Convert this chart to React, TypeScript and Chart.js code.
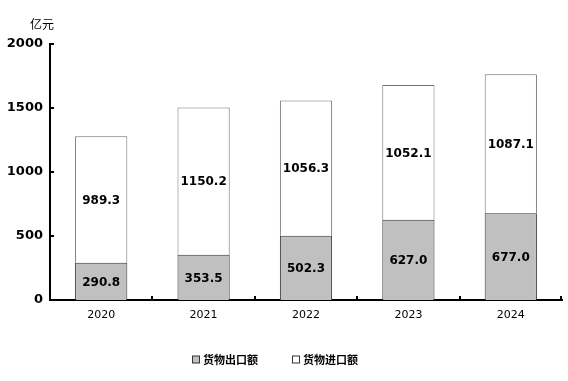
import React, { useEffect, useRef } from "react";
import { Chart, registerables } from "chart.js";

Chart.register(...registerables);

const categories = ["2020", "2021", "2022", "2023", "2024"];
const exportValues = [290.8, 353.5, 502.3, 627.0, 677.0];
const importValues = [989.3, 1150.2, 1056.3, 1052.1, 1087.1];
const seriesNames = ["货物出口额", "货物进口额"];
const unitLabel = "亿元";
const yMax = 2000;
const yStep = 500;

const NUM_FONT = "'DejaVu Sans', Verdana, sans-serif";
const CJK_FONT = "'Noto Sans CJK SC', 'Noto Sans', sans-serif";
const seriesFill = ["#C0C0C0", "#FFFFFF"];
const seriesBorder = ["#333333", "#707070"];

const extrasPlugin = {
  id: "extras",
  afterDatasetsDraw(chart: any) {
    const ctx = chart.ctx as CanvasRenderingContext2D;
    const { left, right, top, bottom } = chart.chartArea;
    ctx.save();
    // data labels
    ctx.font = `bold 12px ${NUM_FONT}`;
    ctx.fillStyle = "#000";
    ctx.textAlign = "center";
    ctx.textBaseline = "middle";
    chart.data.datasets.forEach((ds: any, di: number) => {
      const meta = chart.getDatasetMeta(di);
      meta.data.forEach((bar: any, i: number) => {
        const p = bar.getProps(["x", "y", "base"], true);
        ctx.fillText(Number(ds.data[i]).toFixed(1), p.x, (p.y + p.base) / 2 + 1);
      });
    });
    // axis tick marks (inside)
    ctx.strokeStyle = "#000";
    ctx.lineWidth = 2;
    const ys = chart.scales.y;
    ys.ticks.forEach((t: any) => {
      const py = Math.round(ys.getPixelForValue(t.value));
      ctx.beginPath();
      ctx.moveTo(left, py);
      ctx.lineTo(left + 4, py);
      ctx.stroke();
    });
    const xs = chart.scales.x;
    const n = chart.data.labels.length;
    for (let i = 1; i <= n; i++) {
      const px =
        i < n
          ? Math.round((xs.getPixelForValue(i - 1) + xs.getPixelForValue(i)) / 2)
          : right - 1;
      ctx.beginPath();
      ctx.moveTo(px, bottom);
      ctx.lineTo(px, bottom - 4);
      ctx.stroke();
    }
    // unit label
    ctx.font = `12px ${CJK_FONT}`;
    ctx.textAlign = "center";
    ctx.fillText(unitLabel, left - 8, top - 20);
    // legend
    ctx.font = `bold 11px ${CJK_FONT}`;
    ctx.textAlign = "left";
    const box = 7;
    const gap = 4;
    const itemGap = 34;
    const widths = chart.data.datasets.map(
      (ds: any) => box + gap + ctx.measureText(ds.label).width
    );
    const total = widths.reduce((a: number, b: number) => a + b, 0) + itemGap * (widths.length - 1);
    let x = 275 - total / 2;
    const ly = 359;
    chart.data.datasets.forEach((ds: any, di: number) => {
      ctx.fillStyle = ds.backgroundColor;
      ctx.fillRect(x + 0.5, ly - box / 2 + 0.5, box, box);
      ctx.strokeStyle = "#333";
      ctx.lineWidth = 1;
      ctx.strokeRect(x + 0.5, ly - box / 2 + 0.5, box, box);
      ctx.fillStyle = "#000";
      ctx.fillText(ds.label, x + box + gap, ly + 1);
      x += widths[di] + itemGap;
    });
    ctx.restore();
  },
};

export default function App() {
  const ref = useRef<HTMLCanvasElement | null>(null);
  useEffect(() => {
    document.body.style.margin = "0";
    const chart = new Chart(ref.current as HTMLCanvasElement, {
      type: "bar",
      data: {
        labels: categories,
        datasets: [
          {
            label: seriesNames[0],
            data: exportValues,
            backgroundColor: seriesFill[0],
            borderColor: seriesBorder[0],
            borderWidth: 1,
            borderSkipped: "bottom",
          },
          {
            label: seriesNames[1],
            data: importValues,
            backgroundColor: seriesFill[1],
            borderColor: seriesBorder[1],
            borderWidth: 1,
            borderSkipped: "bottom",
          },
        ],
      },
      options: {
        animation: false,
        responsive: false,
        maintainAspectRatio: false,
        layout: { padding: { top: 44, right: 6, left: 0, bottom: 0 } },
        datasets: { bar: { categoryPercentage: 1, barPercentage: 0.51 } },
        plugins: { legend: { display: false }, tooltip: { enabled: false } },
        scales: {
          x: {
            stacked: true,
            grid: { display: false, drawTicks: false },
            border: { color: "#000", width: 2 },
            ticks: { color: "#000", font: { family: NUM_FONT, size: 11 }, padding: 9 },
            afterFit: (s: any) => {
              s.height = 81;
            },
          },
          y: {
            stacked: true,
            min: 0,
            max: yMax,
            grid: { display: false, drawTicks: false },
            border: { color: "#000", width: 2 },
            ticks: {
              stepSize: yStep,
              color: "#000",
              font: { family: NUM_FONT, size: 13, weight: "bold" },
              padding: 7,
              callback: (v: any) => String(v),
            },
            afterFit: (s: any) => {
              s.width = 50;
            },
          },
        },
      },
      plugins: [extrasPlugin],
    });
    return () => chart.destroy();
  }, []);
  return (
    <div style={{ width: 568, height: 381, background: "#fff" }}>
      <canvas ref={ref} width={568} height={381} />
    </div>
  );
}
